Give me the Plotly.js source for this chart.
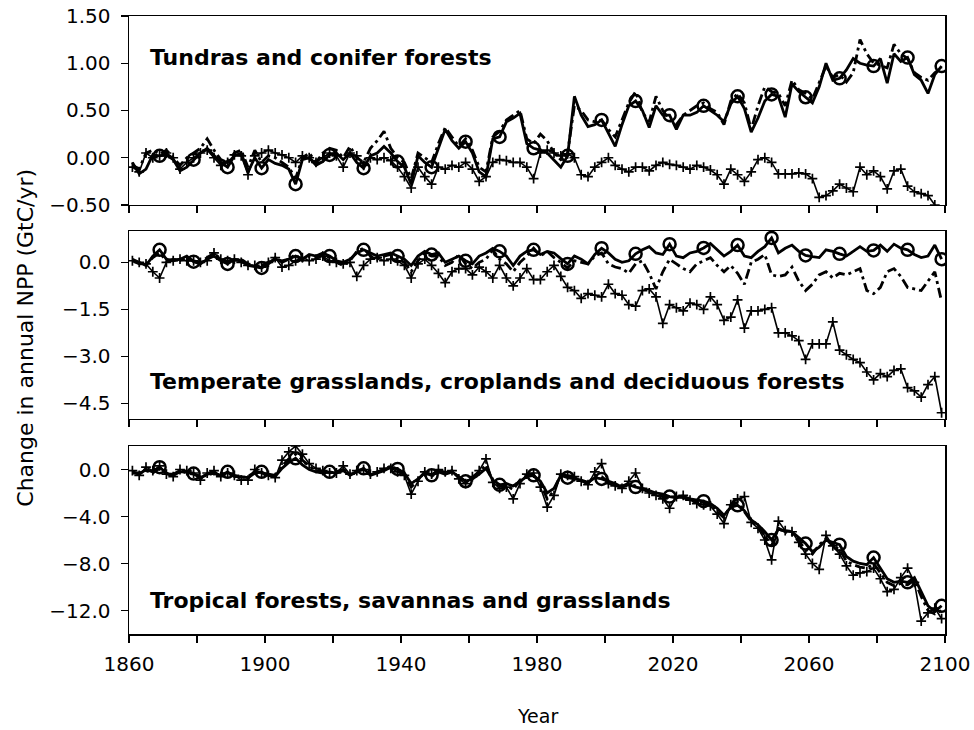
<!DOCTYPE html>
<html><head><meta charset="utf-8">
<script src="https://cdn.plot.ly/plotly-3.0.1.min.js"></script>
<style>html,body{margin:0;padding:0;background:#fff}#chart{width:974px;height:730px}</style>
</head><body><div id="chart"></div>
<script>
// Years: 1861..2099, every second year
const years = [];
for (let y = 1861; y <= 2099; y += 2) years.push(y);

const xTickVals = [1860,1880,1900,1920,1940,1960,1980,2000,2020,2040,2060,2080,2100];
const xTickText = ['1860','','1900','','1940','','1980','','2020','','2060','','2100'];

const panelLabels = ['Tundras and conifer forests',
  'Temperate grasslands, croplands and deciduous forests',
  'Tropical forests, savannas and grasslands'];

// Panel 1: Tundras and conifer forests
const tundraSolid = [
-0.05,-0.17,-0.12,0.03,0.02,0.03,-0.02,-0.14,-0.1,-0.02,
0.05,0.1,0.02,-0.05,-0.1,0.02,0.05,-0.15,0.0,-0.11,
-0.02,-0.06,-0.08,-0.12,-0.28,-0.02,0.0,-0.08,-0.04,0.03,
0.05,-0.02,0.05,-0.05,-0.11,0.02,0.05,0.12,0.05,-0.04,
-0.1,-0.28,0.02,-0.05,-0.1,0.1,0.3,0.18,0.1,0.17,
0.05,-0.15,-0.2,0.2,0.22,0.38,0.42,0.47,0.15,0.1,
0.08,0.05,-0.02,-0.1,0.02,0.65,0.45,0.33,0.35,0.4,
0.26,0.12,0.35,0.55,0.6,0.5,0.32,0.55,0.45,0.45,
0.3,0.45,0.45,0.48,0.55,0.5,0.45,0.38,0.57,0.65,
0.52,0.27,0.42,0.6,0.67,0.65,0.43,0.78,0.7,0.64,
0.58,0.75,1.0,0.82,0.84,0.93,1.05,1.0,0.98,0.97,
1.05,0.79,1.1,1.02,1.06,0.88,0.82,0.68,0.88,0.97];
const tundraDashDot = [
-0.08,-0.12,0.05,0.08,0.04,0.08,0.0,-0.08,0.0,0.05,
0.1,0.2,0.08,-0.02,-0.05,0.05,0.08,-0.1,0.08,-0.05,
0.02,0.0,-0.05,-0.1,-0.22,0.0,0.05,-0.05,0.05,0.1,
0.08,0.0,0.12,0.0,-0.05,0.1,0.18,0.28,0.1,0.0,
-0.05,-0.22,0.05,0.0,-0.05,0.15,0.32,0.22,0.12,0.2,
0.08,-0.1,-0.15,0.22,0.28,0.4,0.45,0.5,0.2,0.15,
0.25,0.18,0.05,-0.02,0.05,0.55,0.5,0.4,0.38,0.4,
0.3,0.22,0.4,0.58,0.7,0.48,0.38,0.65,0.5,0.4,
0.35,0.45,0.5,0.55,0.58,0.52,0.48,0.35,0.6,0.68,
0.58,0.3,0.55,0.75,0.7,0.68,0.55,0.82,0.72,0.68,
0.62,0.8,0.97,0.85,0.88,0.8,0.9,1.25,1.1,1.0,
0.98,0.95,1.2,1.1,1.05,0.9,0.85,0.82,0.9,0.95];
const tundraPlus = [
-0.1,-0.15,0.05,0.0,0.02,0.05,0.0,-0.12,-0.05,0.0,
0.05,0.08,0.0,-0.08,-0.05,0.03,0.02,-0.18,0.02,0.05,
0.08,0.05,0.03,0.0,-0.05,0.02,0.0,-0.05,0.0,0.05,
0.02,-0.1,0.05,0.02,-0.08,0.0,-0.02,0.0,-0.03,-0.1,
-0.2,-0.32,-0.1,-0.2,-0.28,-0.1,-0.12,-0.08,-0.1,-0.05,
-0.12,-0.25,-0.2,-0.05,-0.02,-0.03,-0.05,-0.05,-0.1,-0.22,
0.05,0.08,0.05,0.02,0.04,0.0,-0.18,-0.2,-0.1,-0.05,
0.0,-0.08,-0.12,-0.15,-0.1,-0.1,-0.14,-0.08,-0.05,-0.07,
-0.08,-0.1,-0.12,-0.08,-0.1,-0.13,-0.18,-0.28,-0.12,-0.18,
-0.25,-0.15,-0.02,0.0,-0.05,-0.17,-0.17,-0.17,-0.16,-0.17,
-0.22,-0.42,-0.4,-0.35,-0.28,-0.32,-0.36,-0.1,-0.18,-0.14,
-0.2,-0.33,-0.14,-0.12,-0.3,-0.36,-0.38,-0.4,-0.5,-0.6];

// Panel 2: Temperate grasslands, croplands and deciduous forests
const temperateSolid = [
0.1,0.0,-0.1,0.2,0.4,0.1,0.05,0.1,0.2,0.02,
-0.05,0.1,0.2,0.05,-0.05,0.1,0.05,-0.1,-0.15,-0.18,
-0.05,0.1,0.05,0.1,0.2,0.1,0.25,0.2,0.3,0.2,
0.05,0.0,0.1,0.3,0.4,0.3,0.2,0.25,0.3,0.2,
0.1,-0.1,0.2,0.35,0.25,0.3,0.0,0.1,0.2,0.05,
-0.05,0.2,0.3,0.45,0.35,0.2,-0.1,0.2,0.35,0.4,
0.25,0.35,0.3,0.12,-0.05,0.2,0.1,-0.05,0.25,0.45,
0.3,0.1,0.0,0.05,0.27,0.4,0.5,0.3,0.25,0.58,
0.2,0.15,0.3,0.35,0.46,0.6,0.4,0.2,0.35,0.55,
0.2,0.15,0.35,0.5,0.78,0.3,0.45,0.55,0.35,0.22,
0.18,0.15,0.4,0.35,0.27,0.2,0.35,0.5,0.35,0.38,
0.55,0.35,0.58,0.45,0.4,0.25,0.15,0.2,0.55,0.1];
const temperateDashDot = [
0.05,-0.05,-0.05,0.15,0.3,0.05,0.1,0.05,0.15,0.05,
0.0,0.15,0.3,0.1,0.0,0.05,0.1,-0.05,-0.1,-0.1,
0.0,0.15,0.0,0.1,0.25,0.05,0.2,0.15,0.25,0.15,
0.0,-0.1,0.05,0.35,0.45,0.2,0.1,0.2,0.25,0.1,
0.0,-0.3,0.05,0.3,0.2,0.2,-0.1,0.0,0.25,-0.05,
-0.2,0.0,0.1,0.4,0.1,-0.05,-0.3,0.0,0.2,0.45,
0.2,0.35,0.15,0.0,-0.18,0.05,0.0,-0.05,0.2,0.3,
-0.05,-0.15,-0.2,-0.35,-0.05,0.05,-0.35,-0.85,-0.3,0.1,
-0.05,-0.2,-0.3,-0.05,0.05,0.15,-0.1,-0.3,-0.1,-0.35,
-0.7,0.0,0.1,0.25,-0.4,-0.45,-0.4,-0.15,-0.6,-0.9,
-0.7,-0.4,-0.3,-0.5,-0.35,-0.4,-0.3,-0.2,-0.9,-1.0,
-0.8,-0.3,-0.2,-0.45,-0.8,-0.85,-0.9,-0.6,-0.3,-1.25];
const temperatePlus = [
0.05,0.0,-0.05,-0.3,-0.5,0.0,0.05,0.1,0.05,0.05,
0.0,0.05,0.3,0.1,0.05,0.1,0.0,-0.1,-0.1,-0.15,
0.0,0.15,-0.15,-0.1,0.05,0.15,0.05,0.1,0.2,0.05,
0.0,-0.05,0.0,-0.45,-0.1,0.1,0.15,0.05,0.1,0.05,
-0.1,-0.5,-0.05,0.1,-0.1,-0.35,-0.65,-0.3,-0.2,-0.2,
-0.4,-0.15,-0.3,-0.5,-0.1,-0.5,-0.75,-0.5,-0.2,-0.55,
-0.55,-0.3,-0.1,-0.45,-0.8,-0.9,-1.15,-1.0,-1.05,-1.1,
-0.7,-1.0,-1.05,-1.35,-1.4,-0.9,-0.85,-1.1,-1.95,-1.35,
-1.45,-1.55,-1.3,-1.35,-1.5,-1.1,-1.35,-1.85,-1.75,-1.2,
-2.1,-1.55,-1.55,-1.5,-1.45,-2.25,-2.25,-2.35,-2.5,-3.1,
-2.6,-2.6,-2.6,-1.9,-2.8,-2.95,-3.1,-3.2,-3.5,-3.75,
-3.55,-3.65,-3.45,-3.4,-4.0,-4.1,-4.3,-3.9,-3.65,-4.8];

// Panel 3: Tropical forests, savannas and grasslands
const tropicalSolid = [
-0.2,-0.4,0.0,-0.2,0.2,-0.3,-0.5,-0.2,-0.2,-0.35,
-0.7,-0.4,-0.3,-0.5,-0.2,-0.6,-0.6,-0.7,-0.3,-0.2,
-0.5,-0.6,0.1,0.6,0.95,0.4,0.0,-0.2,-0.3,-0.2,
-0.3,-0.1,-0.5,-0.2,0.1,-0.5,-0.3,-0.1,0.2,0.05,
-0.3,-1.2,-0.8,-0.3,-0.5,-0.2,-0.4,-0.2,-0.6,-1.0,
-0.8,-0.4,0.1,-0.9,-1.3,-1.2,-1.4,-1.0,-0.6,-0.5,
-1.0,-2.0,-1.6,-0.5,-0.7,-0.8,-0.9,-1.1,-0.7,-0.8,
-1.0,-1.2,-1.5,-1.3,-1.5,-1.6,-1.8,-2.0,-2.1,-2.3,
-2.4,-2.3,-2.5,-2.6,-2.7,-2.9,-3.3,-3.9,-3.2,-3.05,
-3.5,-4.3,-4.7,-5.3,-6.0,-5.1,-5.2,-5.3,-5.8,-6.3,
-7.0,-6.6,-6.0,-6.2,-6.4,-7.4,-7.8,-8.0,-8.1,-7.5,
-8.4,-9.3,-9.6,-9.5,-9.6,-9.2,-10.4,-11.6,-12.1,-11.6];
const tropicalDashDot = [
-0.3,-0.3,-0.1,-0.3,0.1,-0.4,-0.4,-0.1,-0.3,-0.4,
-0.6,-0.5,-0.3,-0.6,-0.3,-0.5,-0.7,-0.6,-0.2,-0.3,
-0.4,-0.5,0.3,0.9,1.3,0.8,0.3,-0.1,-0.2,-0.3,
-0.2,0.0,-0.4,-0.1,0.0,-0.4,-0.2,0.0,0.3,0.0,
-0.4,-1.5,-0.9,-0.2,-0.6,-0.1,-0.3,-0.1,-0.7,-1.1,
-0.7,-0.2,0.4,-1.0,-1.4,-1.4,-1.7,-0.9,-0.5,-0.5,
-1.2,-2.5,-1.8,-0.4,-0.6,-0.7,-1.0,-1.2,-0.5,-0.6,
-1.1,-1.3,-1.4,-1.2,-1.4,-1.7,-1.9,-2.1,-2.3,-2.4,
-2.3,-2.4,-2.6,-2.8,-2.8,-3.0,-3.6,-4.1,-3.0,-2.8,
-3.6,-4.4,-4.8,-5.6,-6.5,-5.0,-5.3,-5.5,-6.1,-6.8,
-7.2,-6.4,-5.9,-6.5,-6.8,-7.8,-8.1,-8.3,-8.4,-8.0,
-8.8,-9.6,-9.9,-9.7,-9.8,-9.4,-10.8,-12.0,-12.3,-12.0];
const tropicalPlus = [
-0.1,-0.5,0.2,-0.1,0.3,-0.4,-0.6,0.0,-0.1,-0.3,
-0.9,-0.3,-0.1,-0.6,-0.3,-0.5,-0.9,-0.9,0.0,-0.3,
-0.5,-0.7,0.8,1.5,2.0,1.3,0.5,0.1,-0.1,-0.3,
-0.3,0.3,-0.4,-0.1,0.0,-0.4,-0.2,0.1,0.1,-0.2,
-0.5,-2.1,-1.0,-0.2,-0.4,0.0,-0.2,-0.1,-0.8,-1.2,
-0.6,-0.1,0.9,-1.1,-1.6,-1.5,-2.5,-1.2,-0.4,-0.3,
-1.5,-3.2,-2.2,-0.4,-0.5,-0.6,-1.0,-1.3,-0.2,0.5,
-1.2,-1.4,-1.6,-1.0,-0.3,-1.6,-2.0,-2.2,-2.5,-3.3,
-2.3,-2.2,-2.6,-2.9,-3.0,-3.1,-3.8,-4.6,-3.0,-2.5,
-2.3,-4.5,-5.0,-6.0,-7.7,-4.4,-5.2,-5.3,-6.2,-7.2,
-8.0,-8.5,-5.6,-6.5,-7.2,-8.2,-9.0,-8.8,-8.7,-8.4,
-9.3,-10.4,-10.2,-9.2,-8.4,-9.6,-12.9,-12.2,-11.8,-12.7];

const FONT = 'DejaVu Sans';
const panels = [
  {xa:'x3', ya:'y3', s:tundraSolid, d:tundraDashDot, p:tundraPlus},
  {xa:'x2', ya:'y2', s:temperateSolid, d:temperateDashDot, p:temperatePlus},
  {xa:'x',  ya:'y',  s:tropicalSolid, d:tropicalDashDot, p:tropicalPlus}
];

const traces = [];
panels.forEach(pn => {
  traces.push({x: years, y: pn.p, xaxis: pn.xa, yaxis: pn.ya, mode: 'lines+markers',
    line: {color: '#000', width: 1.6},
    marker: {symbol: 'cross-thin-open', size: 7, color: '#000', line: {color: '#000', width: 1.7}},
    showlegend: false, hoverinfo: 'skip'});
  traces.push({x: years, y: pn.d, xaxis: pn.xa, yaxis: pn.ya, mode: 'lines',
    line: {color: '#000', width: 2.8, dash: '10px,4px,3px,4px'},
    showlegend: false, hoverinfo: 'skip'});
  traces.push({x: years, y: pn.s, xaxis: pn.xa, yaxis: pn.ya, mode: 'lines',
    line: {color: '#000', width: 2.8},
    showlegend: false, hoverinfo: 'skip'});
  const cx = years.filter((v, i) => i % 5 === 4);
  const cy = pn.s.filter((v, i) => i % 5 === 4);
  traces.push({x: cx, y: cy, xaxis: pn.xa, yaxis: pn.ya, mode: 'markers',
    marker: {symbol: 'circle-open', size: 12, color: '#000', line: {color: '#000', width: 2.5}},
    showlegend: false, hoverinfo: 'skip'});
});

const tickFont = {family: FONT, size: 20, color: '#000'};
function xax(anchor, labels) {
  return {anchor: anchor, domain: [0, 1], range: [1860, 2100], tickmode: 'array',
    tickvals: xTickVals, ticktext: xTickText, showticklabels: labels,
    ticks: 'outside', ticklen: 7, tickwidth: 1.3, tickcolor: '#000',
    ticklabelstandoff: 4,
    showline: true, linecolor: '#000', linewidth: 1.5, mirror: true,
    showgrid: false, zeroline: false, tickfont: tickFont};
}
function yax(anchor, dom, rng, vals, fmt) {
  return {anchor: anchor, domain: dom, range: rng, tickmode: 'array', tickvals: vals,
    tickformat: fmt, ticks: 'outside', ticklen: 7, tickwidth: 1.3, tickcolor: '#000',
    ticklabelstandoff: 6,
    showline: true, linecolor: '#000', linewidth: 1.5, mirror: true,
    showgrid: false, zeroline: false, tickfont: tickFont};
}

const labelFont = {family: FONT, size: 22, color: '#000'};
const layout = {
  width: 974, height: 730,
  margin: {l: 129, r: 29, t: 16, b: 96},
  paper_bgcolor: '#fff', plot_bgcolor: '#fff',
  showlegend: false,
  xaxis: xax('y', true),
  xaxis2: xax('y2', false),
  xaxis3: xax('y3', false),
  yaxis: yax('x', [0, 0.3042], [-14, 2], [0, -4, -8, -12], '.1f'),
  yaxis2: yax('x2', [0.3479, 0.6521], [-5, 1], [0, -1.5, -3, -4.5], '.1f'),
  yaxis3: yax('x3', [0.6942, 1], [-0.5, 1.5], [1.5, 1, 0.5, 0, -0.5], '.2f'),
  annotations: [
    {text: '<b>' + panelLabels[0] + '</b>', xref: 'paper', yref: 'y3', x: 0.0233, y: 1.066,
     xanchor: 'left', yanchor: 'middle', showarrow: false, font: labelFont},
    {text: '<b>' + panelLabels[1] + '</b>', xref: 'paper', yref: 'y2', x: 0.0233, y: -3.79,
     xanchor: 'left', yanchor: 'middle', showarrow: false, font: labelFont},
    {text: '<b>' + panelLabels[2] + '</b>', xref: 'paper', yref: 'y', x: 0.0233, y: -11.13,
     xanchor: 'left', yanchor: 'middle', showarrow: false, font: labelFont},
    {text: 'Change in annual NPP (GtC/yr)', xref: 'paper', yref: 'paper', x: -0.127, y: 0.48,
     textangle: -90, xanchor: 'center', yanchor: 'middle', showarrow: false,
     font: {family: FONT, size: 22, color: '#000'}},
    {text: 'Year', xref: 'paper', yref: 'paper', x: 0.5, y: -0.133,
     xanchor: 'center', yanchor: 'middle', showarrow: false,
     font: {family: FONT, size: 19, color: '#000'}}
  ]
};

Plotly.newPlot('chart', traces, layout, {staticPlot: true, displayModeBar: false});
</script>
</body></html>
